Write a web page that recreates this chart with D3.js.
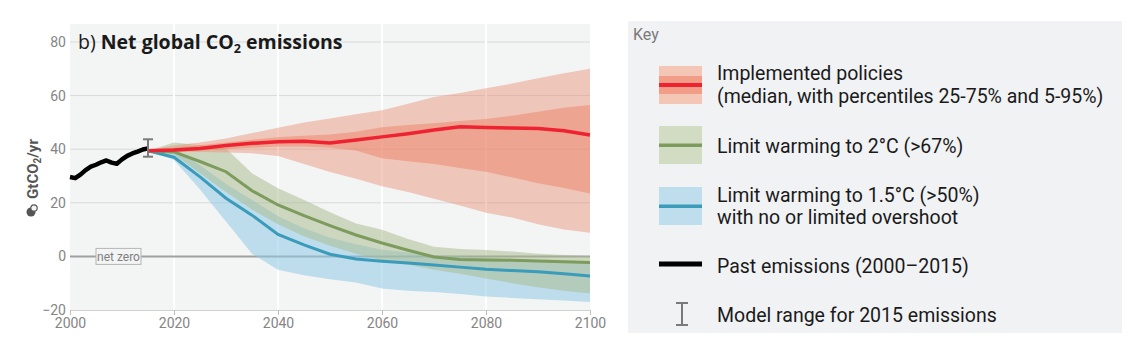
<!DOCTYPE html>
<html>
<head>
<meta charset="utf-8">
<script src="https://cdn.jsdelivr.net/npm/d3@7"></script>
<style>
  html, body { margin: 0; padding: 0; background: #ffffff; }
  svg { display: block; }
  text { font-family: "Roboto", "Noto Sans", sans-serif; }
</style>
</head>
<body>
<svg id="chart" width="1145" height="356"></svg>
<script>
// ---------------- DATA ----------------
const pastYears = [2000,2001,2002,2003,2004,2005,2006,2007,2008,2009,2010,2011,2012,2013,2014,2015];
const pastValues = [29.6,29.2,30.5,32.2,33.5,34.2,35.1,35.8,35.0,34.6,36.2,37.5,38.4,39.1,39.9,40.3];

const modelRange2015 = [37.2, 43.7];

const scenarioYears = [2015,2020,2025,2030,2035,2040,2045,2050,2055,2060,2065,2070,2075,2080,2085,2090,2095,2100];

// Implemented policies
const policyMedian = [39.4,39.7,40.3,41.4,42.2,42.8,43.0,42.3,43.4,44.6,45.8,47.2,48.4,48.1,47.9,47.7,46.9,45.3];
const policyP25    = [39.4,39.0,39.5,40.0,40.5,41.0,41.0,40.5,39.5,36.6,35.5,34.5,33.0,31.6,29.5,27.3,25.5,23.5];
const policyP75    = [39.4,40.5,41.5,42.5,43.5,44.5,45.0,45.5,46.5,48.2,49.0,49.7,50.5,51.3,52.5,54.0,55.5,56.5];
const policyP5     = [39.4,39.0,39.0,38.8,38.5,37.5,34.5,31.5,29.0,26.2,24.0,21.5,19.0,16.3,14.5,12.0,10.0,8.8];
const policyP95    = [39.4,41.5,42.5,44.0,46.0,48.0,50.0,51.5,53.0,54.5,57.0,59.5,61.0,62.7,64.5,66.5,68.3,70.0];

// Limit warming to 2°C (>67%)
const twoMedian = [39.4,39.0,35.4,31.6,24.5,19.2,15.2,11.5,8.0,5.0,2.3,-0.2,-1.2,-1.3,-1.4,-1.7,-2.0,-2.3];
const twoLow    = [39.4,38.0,31.0,24.0,17.5,12.0,7.5,4.0,1.0,-1.5,-3.0,-5.0,-6.5,-8.2,-10.0,-11.5,-12.8,-13.8];
const twoHigh   = [39.4,42.5,41.5,40.3,31.0,25.4,21.0,16.5,12.3,9.9,6.5,3.6,2.8,2.4,1.8,1.0,0.5,0.1];

// Limit warming to 1.5°C (>50%)
const oneFiveMedian = [39.4,37.0,29.7,21.7,15.4,8.2,4.3,0.8,-1.0,-1.8,-2.5,-3.2,-4.0,-4.8,-5.3,-5.7,-6.5,-7.3];
const oneFiveLow    = [39.4,36.0,25.0,13.0,1.0,-5.0,-7.0,-8.5,-9.7,-12.0,-12.8,-13.3,-14.0,-15.0,-15.5,-16.0,-16.5,-17.0];
const oneFiveHigh   = [39.4,40.5,34.0,27.0,21.0,15.0,10.5,7.0,4.5,2.5,1.5,0.5,0.0,-0.5,-1.0,-1.5,-2.0,-2.5];

const xTicks = [2000,2020,2040,2060,2080,2100];
const yTicks = [-20,0,20,40,60,80];

const legendLabels = [
  ["Implemented policies", "(median, with percentiles 25-75% and 5-95%)"],
  ["Limit warming to 2°C (>67%)"],
  ["Limit warming to 1.5°C (>50%)", "with no or limited overshoot"],
  ["Past emissions (2000–2015)"],
  ["Model range for 2015 emissions"]
];

// ---------------- CHART ----------------
const svg = d3.select("#chart");
const x = d3.scaleLinear().domain([2000, 2100]).range([70, 590]);
const y = d3.scaleLinear().domain([-20, 80]).range([310, 42]);

// plot background
svg.append("rect").attr("x", x(2000)).attr("y", 24)
  .attr("width", x(2100) - x(2000)).attr("height", y(-20) - 24)
  .attr("fill", "#f3f4f4");

// horizontal gridlines
svg.append("g").selectAll("line").data(yTicks.filter(d => d !== 0 && d !== -20)).join("line")
  .attr("x1", x(2000)).attr("x2", x(2100))
  .attr("y1", d => y(d)).attr("y2", d => y(d))
  .attr("stroke", "#d9d9d9").attr("stroke-width", 1);

// vertical white gridlines
svg.append("g").selectAll("line").data(xTicks.filter(d => d > 2000 && d < 2100)).join("line")
  .attr("x1", d => x(d)).attr("x2", d => x(d))
  .attr("y1", 24).attr("y2", y(-20))
  .attr("stroke", "#ffffff").attr("stroke-width", 2);

// zero line
svg.append("line").attr("x1", x(2000)).attr("x2", x(2100))
  .attr("y1", y(0)).attr("y2", y(0))
  .attr("stroke", "#a0a0a0").attr("stroke-width", 2);

// axes
const xAxis = d3.axisBottom(x).tickValues(xTicks).tickFormat(d3.format("d")).tickSize(5).tickPadding(3);
const gx = svg.append("g").attr("transform", `translate(0,${y(-20)})`).call(xAxis);
gx.select(".domain").attr("stroke", "#d0d0d0");
gx.selectAll(".tick line").attr("stroke", "#bdbdbd");
gx.selectAll(".tick text").attr("fill", "#858585").attr("font-size", 14);

const yAxis = d3.axisLeft(y).tickValues(yTicks).tickSize(0).tickPadding(4);
const gy = svg.append("g").attr("transform", `translate(${x(2000)},0)`).call(yAxis);
gy.select(".domain").remove();
gy.selectAll(".tick text").attr("fill", "#858585").attr("font-size", 14);

// net zero label
const nzg = svg.append("g");
nzg.append("rect").attr("x", 96).attr("y", y(0) - 8).attr("width", 45).attr("height", 16)
  .attr("fill", "#f3f4f4").attr("stroke", "#b5b5b5").attr("stroke-width", 1);
nzg.append("text").attr("x", 118.5).attr("y", y(0) + 4.5).attr("text-anchor", "middle")
  .attr("font-size", 12).attr("fill", "#7f7f7f").text("net zero");

// bands
const idx = scenarioYears.map((d, i) => i);
function band(lo, hi) {
  return d3.area().x(i => x(scenarioYears[i])).y0(i => y(lo[i])).y1(i => y(hi[i]))(idx);
}
function line(vals) {
  return d3.line().x(i => x(scenarioYears[i])).y(i => y(vals[i]))(idx);
}

svg.append("path").attr("d", band(oneFiveLow, oneFiveHigh)).attr("fill", "#8fcbe6").attr("fill-opacity", 0.55);
svg.append("path").attr("d", band(twoLow, twoHigh)).attr("fill", "#a7b98a").attr("fill-opacity", 0.5);
svg.append("path").attr("d", band(policyP5, policyP95)).attr("fill", "#eb8f73").attr("fill-opacity", 0.45);
svg.append("path").attr("d", band(policyP25, policyP75)).attr("fill", "#ec7a5e").attr("fill-opacity", 0.45);

svg.append("path").attr("d", line(oneFiveMedian)).attr("fill", "none").attr("stroke", "#3a9bbb").attr("stroke-width", 3);
svg.append("path").attr("d", line(twoMedian)).attr("fill", "none").attr("stroke", "#7c9b5d").attr("stroke-width", 3);
svg.append("path").attr("d", line(policyMedian)).attr("fill", "none").attr("stroke", "#ee2230").attr("stroke-width", 3.5);

// past emissions
svg.append("path")
  .attr("d", d3.line().x((d, i) => x(pastYears[i])).y(d => y(d))(pastValues))
  .attr("fill", "none").attr("stroke", "#000").attr("stroke-width", 4.5).attr("stroke-linejoin", "round");

// model range bar
const mr = svg.append("g").attr("stroke", "#7a7a7a").attr("stroke-width", 2);
mr.append("line").attr("x1", x(2015)).attr("x2", x(2015)).attr("y1", y(modelRange2015[0])).attr("y2", y(modelRange2015[1]));
mr.append("line").attr("x1", x(2015) - 5).attr("x2", x(2015) + 5).attr("y1", y(modelRange2015[0])).attr("y2", y(modelRange2015[0]));
mr.append("line").attr("x1", x(2015) - 5).attr("x2", x(2015) + 5).attr("y1", y(modelRange2015[1])).attr("y2", y(modelRange2015[1]));

// title
const title = svg.append("text").attr("x", 78).attr("y", 49).attr("font-size", 19.5).attr("fill", "#1a1a1a")
  .style("font-family", "'Open Sans', 'Noto Sans', sans-serif");
title.append("tspan").attr("font-weight", "normal").text("b) ");
title.append("tspan").attr("font-weight", "bold").text("Net global CO");
title.append("tspan").attr("font-weight", "bold").attr("font-size", 12.5).attr("dy", 4).text("2");
title.append("tspan").attr("font-weight", "bold").attr("dy", -4).text(" emissions");

// y label with icon
const yl = svg.append("g").attr("transform", "translate(38,169) rotate(-90)");
const ylt = yl.append("text").attr("text-anchor", "middle").attr("font-size", 15).attr("font-weight", "bold").attr("fill", "#555");
ylt.append("tspan").text("GtCO");
ylt.append("tspan").attr("font-size", 10).attr("dy", 3).text("2");
ylt.append("tspan").attr("dy", -3).text("/yr");
svg.append("circle").attr("cx", 31).attr("cy", 212).attr("r", 4.5).attr("fill", "#555");
svg.append("circle").attr("cx", 34).attr("cy", 208).attr("r", 3.2).attr("fill", "#f3f4f4").attr("stroke", "#555").attr("stroke-width", 1.2);

// ---------------- LEGEND ----------------
const lg = svg.append("g");
lg.append("rect").attr("x", 628).attr("y", 21).attr("width", 494).attr("height", 312).attr("fill", "#f1f2f4");
lg.append("text").attr("x", 633).attr("y", 40).attr("font-size", 16).attr("fill", "#7a7a7a").text("Key");

const swX = 659, swW = 43;
// policies swatch
lg.append("rect").attr("x", swX).attr("y", 66).attr("width", swW).attr("height", 38).attr("fill", "#f3c6b6");
lg.append("rect").attr("x", swX).attr("y", 76).attr("width", swW).attr("height", 18).attr("fill", "#f29d88");
lg.append("rect").attr("x", swX).attr("y", 83).attr("width", swW).attr("height", 4).attr("fill", "#ee2230");
// 2C swatch
lg.append("rect").attr("x", swX).attr("y", 126).attr("width", swW).attr("height", 38).attr("fill", "#d2dcc2");
lg.append("rect").attr("x", swX).attr("y", 143.5).attr("width", swW).attr("height", 3.5).attr("fill", "#7c9b5d");
// 1.5C swatch
lg.append("rect").attr("x", swX).attr("y", 187).attr("width", swW).attr("height", 38).attr("fill", "#bfdeed");
lg.append("rect").attr("x", swX).attr("y", 204.5).attr("width", swW).attr("height", 3.5).attr("fill", "#3a9bbb");
// past
lg.append("rect").attr("x", swX).attr("y", 261.5).attr("width", swW).attr("height", 5).attr("fill", "#000");
// model range icon
const mi = lg.append("g").attr("stroke", "#7a7a7a").attr("stroke-width", 2);
mi.append("line").attr("x1", 682).attr("x2", 682).attr("y1", 303).attr("y2", 325);
mi.append("line").attr("x1", 676).attr("x2", 688).attr("y1", 303).attr("y2", 303);
mi.append("line").attr("x1", 676).attr("x2", 688).attr("y1", 325).attr("y2", 325);

const textX = 717;
const baselines = [[80, 103], [153], [202, 224], [273], [322]];
legendLabels.forEach((lines, i) => {
  lines.forEach((t, j) => {
    lg.append("text").attr("x", textX).attr("y", baselines[i][j]).attr("font-size", 19.5)
      .attr("fill", "#1a1a1a").text(t);
  });
});
</script>
</body>
</html>
